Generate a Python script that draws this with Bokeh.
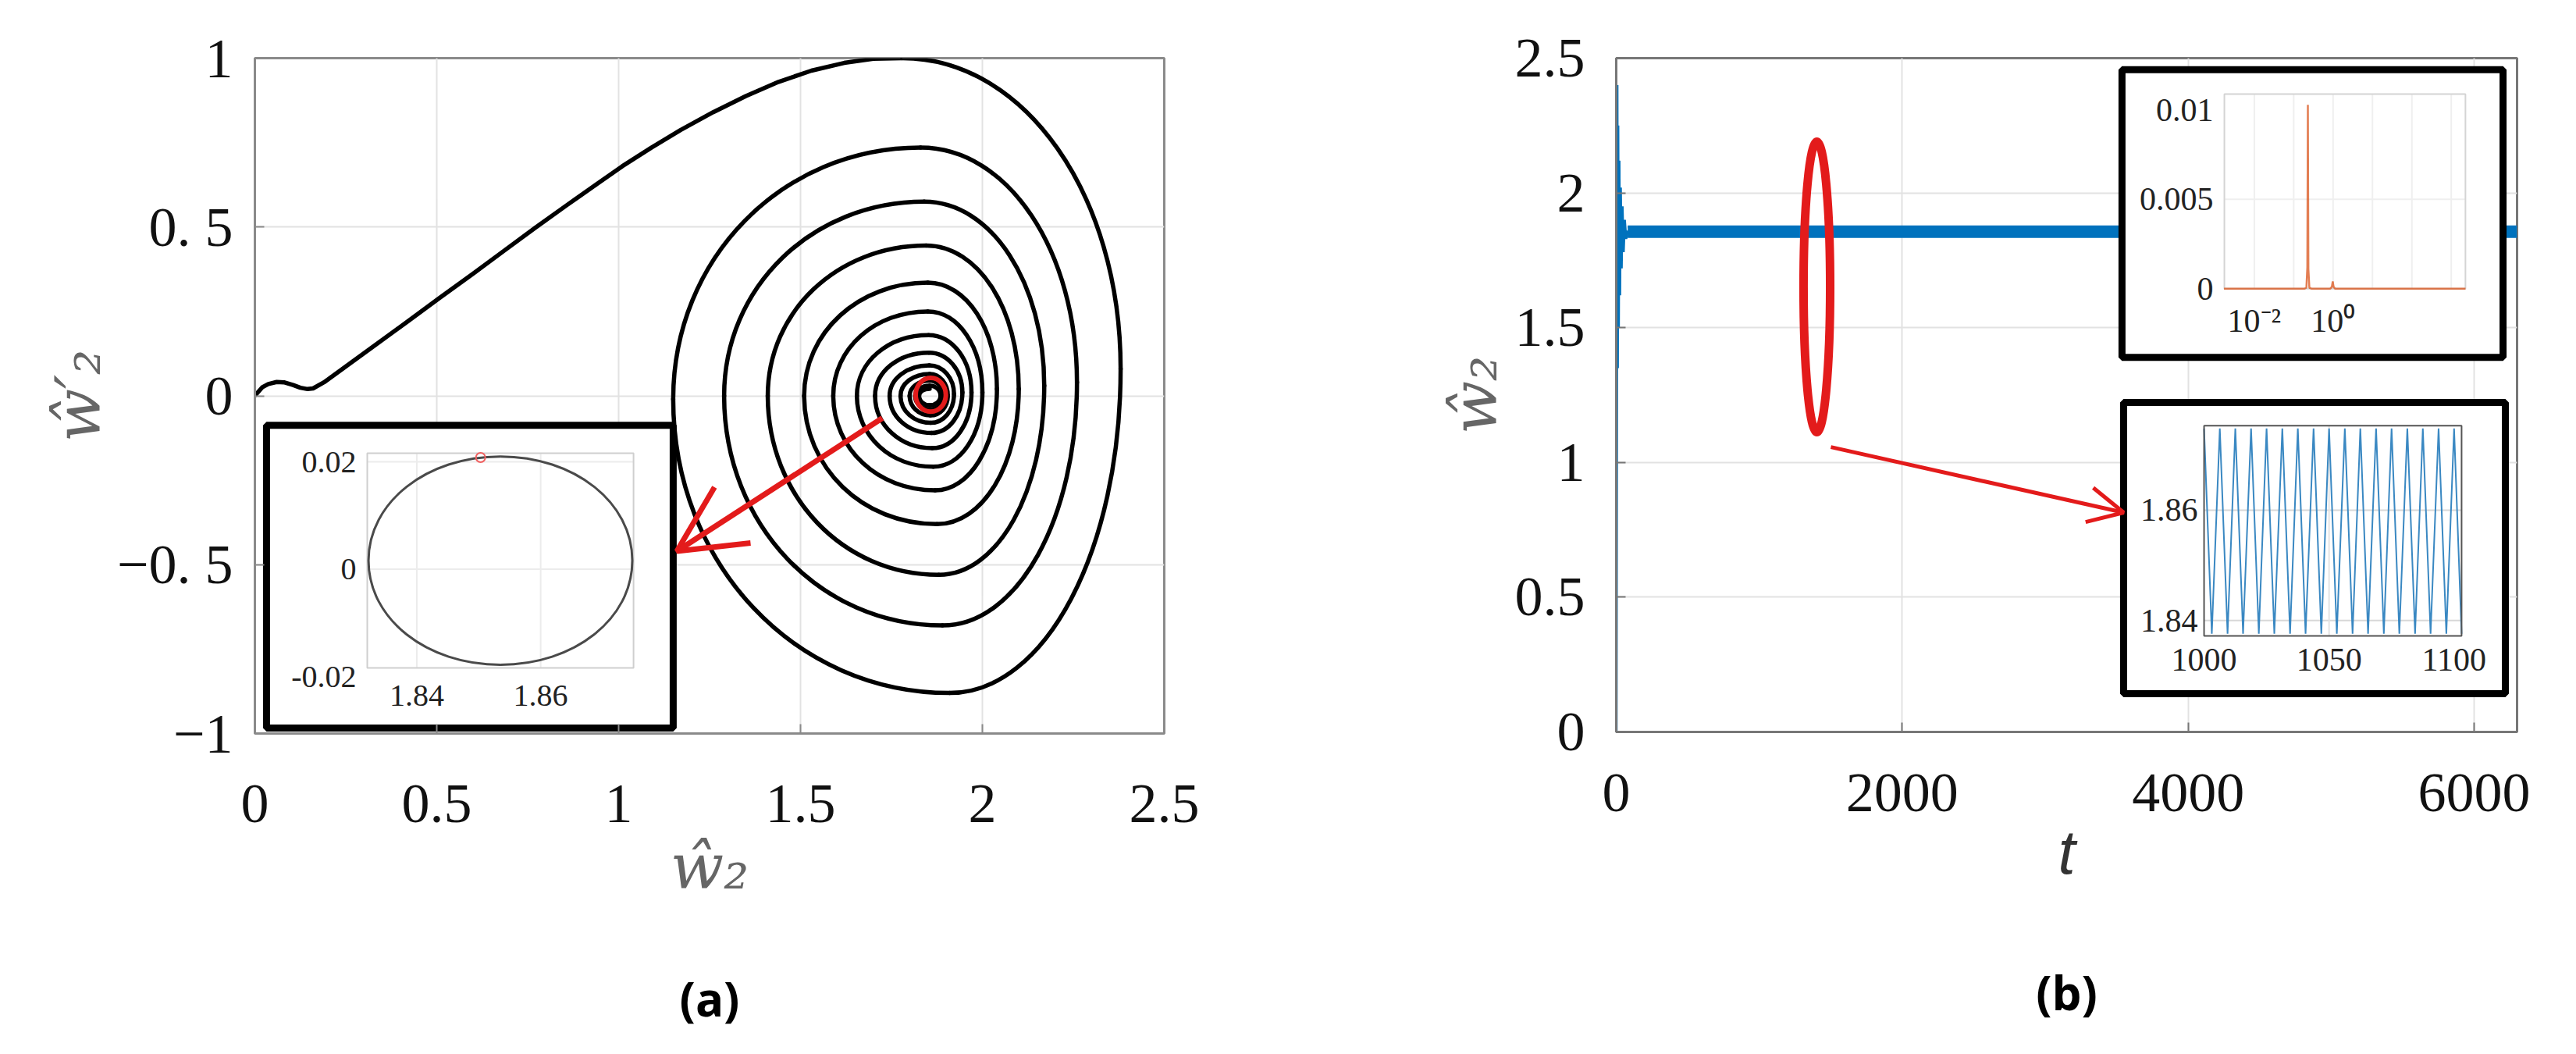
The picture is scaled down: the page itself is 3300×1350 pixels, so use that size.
import math
from bokeh.plotting import figure
from bokeh.layouts import row
from bokeh.models import (Range1d, FixedTicker, Arrow, OpenHead, Title, ColumnDataSource)
from bokeh.embed import file_html
from bokeh.resources import INLINE
from bokeh.core.properties import value

RED = "#e31b1b"
BLUE = "#0072BD"
ORANGE = "#D95319"
SERIF = "Liberation Serif"

# ======================= DATA : panel (a) =======================
a_x_ticks = [0, 0.5, 1, 1.5, 2, 2.5]
a_x_tick_labels = ["0", "0.5", "1", "1.5", "2", "2.5"]
a_y_ticks = [-1, -0.5, 0, 0.5, 1]
a_y_tick_labels = ["\u22121", "\u22120. 5", "0", "0. 5", "1"]

# trajectory from the origin up to the first top of the spiral
approach_w = [0.0, 0.02, 0.037, 0.06, 0.08, 0.105, 0.125, 0.145, 0.16, 0.19, 0.26, 0.333,
              0.42, 0.508, 0.6, 0.683, 0.77, 0.858, 0.94, 1.01, 1.09, 1.17, 1.26, 1.35,
              1.44, 1.53, 1.62, 1.70, 1.78]
approach_dw = [0.0, 0.025, 0.035, 0.041, 0.04, 0.032, 0.024, 0.02, 0.022, 0.04, 0.095, 0.152,
               0.22, 0.29, 0.362, 0.428, 0.497, 0.565, 0.627, 0.68, 0.735, 0.787, 0.84, 0.888,
               0.93, 0.963, 0.986, 0.998, 1.0]

# turning points of the spiral (top, right, bottom, left, top, ...)
spiral_w = [1.78, 2.38, 1.91, 1.15,
            1.83, 2.26, 1.89, 1.29,
            1.84, 2.17, 1.88, 1.41,
            1.845, 2.10, 1.875, 1.51,
            1.85, 2.04, 1.87, 1.59,
            1.85, 2.00, 1.865, 1.655,
            1.852, 1.97, 1.862, 1.705,
            1.853, 1.945, 1.86, 1.745,
            1.854, 1.922, 1.858, 1.775,
            1.855, 1.905, 1.857, 1.80,
            1.855, 1.893, 1.856, 1.815,
            1.855, 1.885, 1.855, 1.826,
            1.855]
spiral_dw = [1.00, 0.08, -0.88, -0.01,
             0.735, 0.04, -0.68, 0.0,
             0.575, 0.03, -0.53, 0.0,
             0.445, 0.02, -0.38, 0.0,
             0.335, 0.02, -0.28, 0.0,
             0.25, 0.01, -0.21, 0.0,
             0.18, 0.01, -0.155, 0.0,
             0.128, 0.01, -0.11, 0.0,
             0.09, 0.005, -0.08, 0.0,
             0.065, 0.0, -0.058, 0.0,
             0.045, 0.0, -0.04, 0.0,
             0.03, 0.0, -0.028, 0.0,
             0.021]

# inset (a): limit cycle (top, right, bottom, left, top)
cycle_w = [1.8535, 1.8748, 1.8535, 1.8322, 1.8535]
cycle_dw = [0.0210, 0.0016, -0.0178, 0.0016, 0.0210]
cycle_mark_w = [1.8503]
cycle_mark_dw = [0.0208]
ia_x_ticks = [1.84, 1.86]
ia_x_tick_labels = ["1.84", "1.86"]
ia_y_ticks = [0.02, 0.0, -0.02]
ia_y_tick_labels = ["0.02", "0", "-0.02"]

# ======================= DATA : panel (b) =======================
b_x_ticks = [0, 2000, 4000, 6000]
b_x_tick_labels = ["0", "2000", "4000", "6000"]
b_y_ticks = [0, 0.5, 1, 1.5, 2, 2.5]
b_y_tick_labels = ["0", "0.5", "1", "1.5", "2", "2.5"]

t_transient = [0, 3, 6, 9, 12, 16, 20, 25, 30, 36, 42, 50, 58, 68, 80]
w_transient = [0.0, 1.1, 2.40, 1.35, 2.25, 1.50, 2.12, 1.62, 2.02, 1.72, 1.95, 1.78, 1.90,
               1.83, 1.86]
t_band = [80, 6300]
w_band_low = [1.8372, 1.8372]
w_band_high = [1.8753, 1.8753]

# inset (b) top: spectrum (frequency on a log axis)
spec_f = [0.0017, 0.19, 0.21, 0.222, 0.229, 0.236, 0.25, 0.28, 0.85, 0.93, 0.98, 1.03,
          1.12, 2300]
spec_amp = [0.0, 0.0, 0.00005, 0.0012, 0.0103, 0.0011, 0.00005, 0.0, 0.0, 0.0001, 0.0004,
            0.0001, 0.0, 0.0]
spec_y_ticks = [0.01, 0.005, 0.0]
spec_y_tick_labels = ["0.01", "0.005", "0"]
spec_x_ticks = [0.01, 1.0]
spec_x_tick_labels = ["10\u207b\u00b2", "10\u2070"]
spec_grid_f = [0.01, 0.1, 1.0, 10.0, 100.0, 1000.0]
spec_f_range = [10 ** -2.76, 10 ** 3.36]
spec_amp_range = [0.0, 0.0109]

# inset (b) bottom: zoom on 1000..1100
zoom_t = [1000.0, 1003.1, 1006.3, 1009.4, 1012.5, 1015.6, 1018.8, 1021.9, 1025.0, 1028.1,
          1031.3, 1034.4, 1037.5, 1040.6, 1043.8, 1046.9, 1050.0, 1053.1, 1056.3, 1059.4,
          1062.5, 1065.6, 1068.8, 1071.9, 1075.0, 1078.1, 1081.3, 1084.4, 1087.5, 1090.6,
          1093.8, 1096.9, 1100.0, 1103.0]
zoom_w = [1.8748, 1.8376] * 17
zoom_x_ticks = [1000, 1050, 1100]
zoom_x_tick_labels = ["1000", "1050", "1100"]
zoom_y_ticks = [1.86, 1.84]
zoom_y_tick_labels = ["1.86", "1.84"]

# ======================= LAYOUT (positions / sizes) =======================
A_INSET_BOX = dict(left=0.032, right=1.150, top=-0.087, bottom=-0.984)
A_INSET_SRC = ((1.832, 1.875), (-0.0184, 0.0216))
A_INSET_TGT = ((0.309, 1.041), (-0.806, -0.170))
A_RED_RING = dict(x=1.858, y=0.003, w=0.083, h=0.10)
A_ARROW = dict(x0=1.725, y0=-0.066, x1=1.16, y1=-0.46)

B_TOP_BOX = dict(left=3537, right=6202, top=2.457, bottom=1.390)
B_TOP_TGT = ((4253, 5939), (1.645, 2.367))
B_BOT_BOX = dict(left=3548, right=6218, top=1.2225, bottom=0.142)
B_BOT_SRC = ((1000, 1103), (1.8372, 1.8753))
B_BOT_TGT = ((4111, 5912), (0.356, 1.136))
B_RED_RING = dict(x=1403, y=1.651, w=186, h=1.08)
B_ARROW = dict(x0=1501, y0=1.057, x1=3549, y1=0.814)


def lg(vals):
    return [math.log10(v) for v in vals]


def quarter_arcs(xs, ys, k=0.56, first_flat=True):
    cols = {n: [] for n in ("x0", "y0", "x1", "y1", "cx0", "cy0", "cx1", "cy1")}
    flat = first_flat
    for i in range(len(xs) - 1):
        ax, ay, bx, by = xs[i], ys[i], xs[i + 1], ys[i + 1]
        if flat:
            c0 = (ax + k * (bx - ax), ay)
            c1 = (bx, by + k * (ay - by))
        else:
            c0 = (ax, ay + k * (by - ay))
            c1 = (bx + k * (ax - bx), by)
        cols["x0"].append(ax); cols["y0"].append(ay)
        cols["x1"].append(bx); cols["y1"].append(by)
        cols["cx0"].append(c0[0]); cols["cy0"].append(c0[1])
        cols["cx1"].append(c1[0]); cols["cy1"].append(c1[1])
        flat = not flat
    return ColumnDataSource(cols)


def style_main(p, xt, xl, yt, yl, frame_color, xstand, ystand):
    p.xaxis.ticker = FixedTicker(ticks=xt)
    p.yaxis.ticker = FixedTicker(ticks=yt)
    p.xaxis.major_label_overrides = {t: l for t, l in zip(xt, xl)}
    p.yaxis.major_label_overrides = {t: l for t, l in zip(yt, yl)}
    for ax in (p.xaxis[0], p.yaxis[0]):
        ax.axis_line_color = frame_color
        ax.axis_line_width = 3
        ax.major_tick_line_color = frame_color
        ax.major_tick_line_width = 2
        ax.major_tick_in = 12
        ax.major_tick_out = 0
        ax.minor_tick_line_color = None
        ax.major_label_text_font = SERIF
        ax.major_label_text_font_size = "72px"
        ax.major_label_text_color = "#111111"
    p.xaxis.major_label_standoff = xstand
    p.yaxis.major_label_standoff = ystand
    p.grid.grid_line_color = "#e2e2e2"
    p.grid.grid_line_width = 2
    p.outline_line_color = frame_color
    p.outline_line_width = 3
    p.background_fill_color = "white"
    p.border_fill_color = "white"


def inset_ticks(sub, x0, y0, xt, xl, yt, yl, size, xoff, yoff):
    sub.text(x=[x0] * len(yt), y=yt, text=yl, text_align="right",
             text_baseline="middle", x_offset=xoff, text_font=value(SERIF),
             text_font_size=value(size), text_color="#222222")
    sub.text(x=xt, y=[y0] * len(xt), text=xl, text_align="center",
             text_baseline="top", y_offset=yoff, text_font=value(SERIF),
             text_font_size=value(size), text_color="#222222")


# ======================= PANEL (a) =======================
pa = figure(frame_width=1165, frame_height=865, x_range=Range1d(0, 2.5),
            y_range=Range1d(-1, 1), output_backend="svg", toolbar_location=None,
            min_border_left=326, min_border_right=201, min_border_top=74,
            min_border_bottom=395)
style_main(pa, a_x_ticks, a_x_tick_labels, a_y_ticks, a_y_tick_labels, "#8a8a8a", 66, 28)
pa.xaxis.axis_label = "\u0175\u2082"
pa.yaxis.axis_label = "\u0175\u2032\u2082"
for ax in (pa.xaxis[0], pa.yaxis[0]):
    ax.axis_label_text_font = "DejaVu Serif"
    ax.axis_label_text_font_style = "italic"
    ax.axis_label_text_font_size = "80px"
    ax.axis_label_text_color = "#666666"
pa.xaxis.axis_label_standoff = 8
pa.yaxis.axis_label_standoff = 0

pa.line(approach_w, approach_dw, line_color="black", line_width=5.5, line_join="round")
pa.bezier(source=quarter_arcs(spiral_w, spiral_dw), x0="x0", y0="y0", x1="x1", y1="y1",
          cx0="cx0", cy0="cy0", cx1="cx1", cy1="cy1", line_color="black", line_width=5.5,
          line_cap="round")
pa.ellipse(x=[A_RED_RING["x"]], y=[A_RED_RING["y"]], width=[A_RED_RING["w"]],
           height=[A_RED_RING["h"]], fill_color=None, line_color=RED, line_width=6)

pa.quad(left=[A_INSET_BOX["left"]], right=[A_INSET_BOX["right"]],
        top=[A_INSET_BOX["top"]], bottom=[A_INSET_BOX["bottom"]],
        fill_color="white", line_color="black", line_width=9)
sa = pa.subplot(x_source=Range1d(*A_INSET_SRC[0]), y_source=Range1d(*A_INSET_SRC[1]),
                x_target=Range1d(*A_INSET_TGT[0]), y_target=Range1d(*A_INSET_TGT[1]))
(ax0, ax1), (ay0, ay1) = A_INSET_SRC
sa.segment(x0=ia_x_ticks, x1=ia_x_ticks, y0=[ay0] * 2, y1=[ay1] * 2,
           line_color="#ececec", line_width=2)
sa.segment(x0=[ax0] * 2, x1=[ax1] * 2, y0=[0.0, 0.02], y1=[0.0, 0.02],
           line_color="#ececec", line_width=2)
sa.quad(left=[ax0], right=[ax1], bottom=[ay0], top=[ay1], fill_color=None,
        line_color="#cfcfcf", line_width=2)
sa.bezier(source=quarter_arcs(cycle_w, cycle_dw), x0="x0", y0="y0", x1="x1", y1="y1",
          cx0="cx0", cy0="cy0", cx1="cx1", cy1="cy1", line_color="#4a4a4a", line_width=3)
sa.scatter(cycle_mark_w, cycle_mark_dw, marker="circle", size=12, fill_color=None,
           line_color="#f06060", line_width=2)
inset_ticks(sa, ax0, ay0, ia_x_ticks, ia_x_tick_labels, ia_y_ticks,
            ia_y_tick_labels, "40px", -14, 22)

pa.add_layout(Arrow(end=OpenHead(size=85, line_color=RED, line_width=7),
                    x_start=A_ARROW["x0"], y_start=A_ARROW["y0"],
                    x_end=A_ARROW["x1"], y_end=A_ARROW["y1"],
                    line_color=RED, line_width=7))
pa.add_layout(Title(text="(a)", align="center", text_font="Open Sans",
                    text_font_style="bold", text_font_size="60px", text_color="black",
                    standoff=152), "below")

# ======================= PANEL (b) =======================
pb = figure(frame_width=1154, frame_height=863, x_range=Range1d(0, 6300),
            y_range=Range1d(0, 2.5), output_backend="svg", toolbar_location=None,
            min_border_left=378, min_border_right=60, min_border_top=54,
            min_border_bottom=417)
style_main(pb, b_x_ticks, b_x_tick_labels, b_y_ticks, b_y_tick_labels, "#777777", 54, 40)
pb.xaxis.axis_label = "t"
pb.xaxis.axis_label_text_font = "Liberation Sans"
pb.xaxis.axis_label_text_font_style = "italic"
pb.xaxis.axis_label_text_font_size = "80px"
pb.xaxis.axis_label_text_color = "#333333"
pb.xaxis.axis_label_standoff = 5
pb.yaxis.axis_label = "\u0175\u2082"
pb.yaxis.axis_label_text_font = "DejaVu Serif"
pb.yaxis.axis_label_text_font_style = "italic"
pb.yaxis.axis_label_text_font_size = "80px"
pb.yaxis.axis_label_text_color = "#666666"
pb.yaxis.axis_label_standoff = 2

pb.line(t_transient, w_transient, line_color=BLUE, line_width=3.5)
pb.varea(x=t_band, y1=w_band_low, y2=w_band_high, fill_color=BLUE)
pb.line(t_band, w_band_low, line_color=BLUE, line_width=3)
pb.line(t_band, w_band_high, line_color=BLUE, line_width=3)
pb.ellipse(x=[B_RED_RING["x"]], y=[B_RED_RING["y"]], width=[B_RED_RING["w"]],
           height=[B_RED_RING["h"]], fill_color=None, line_color=RED, line_width=11)

# top inset: spectrum (log-frequency axis)
pb.quad(left=[B_TOP_BOX["left"]], right=[B_TOP_BOX["right"]], top=[B_TOP_BOX["top"]],
        bottom=[B_TOP_BOX["bottom"]], fill_color="white", line_color="black", line_width=9)
fx0, fx1 = lg(spec_f_range)
fy0, fy1 = spec_amp_range
st = pb.subplot(x_source=Range1d(fx0, fx1), y_source=Range1d(fy0, fy1),
                x_target=Range1d(*B_TOP_TGT[0]), y_target=Range1d(*B_TOP_TGT[1]))
st.segment(x0=lg(spec_grid_f), x1=lg(spec_grid_f), y0=[fy0] * len(spec_grid_f),
           y1=[fy1] * len(spec_grid_f), line_color="#efefef", line_width=2)
st.segment(x0=[fx0], x1=[fx1], y0=[0.005], y1=[0.005], line_color="#efefef", line_width=2)
st.quad(left=[fx0], right=[fx1], bottom=[fy0], top=[fy1], fill_color=None,
        line_color="#d4d4d4", line_width=2)
st.line(lg(spec_f), spec_amp, line_color=ORANGE, line_alpha=0.75, line_width=2.5)
inset_ticks(st, fx0, fy0, lg(spec_x_ticks), spec_x_tick_labels, spec_y_ticks,
            spec_y_tick_labels, "42px", -14, 18)

# bottom inset: zoom
pb.quad(left=[B_BOT_BOX["left"]], right=[B_BOT_BOX["right"]], top=[B_BOT_BOX["top"]],
        bottom=[B_BOT_BOX["bottom"]], fill_color="white", line_color="black", line_width=9)
sz = pb.subplot(x_source=Range1d(*B_BOT_SRC[0]), y_source=Range1d(*B_BOT_SRC[1]),
                x_target=Range1d(*B_BOT_TGT[0]), y_target=Range1d(*B_BOT_TGT[1]))
(zx0, zx1), (zy0, zy1) = B_BOT_SRC
sz.segment(x0=[zx0] * 2, x1=[zx1] * 2, y0=zoom_y_ticks, y1=zoom_y_ticks,
           line_color="#d8d8d8", line_width=2)
sz.segment(x0=[1050], x1=[1050], y0=[zy0], y1=[zy1], line_color="#e4e4e4", line_width=2)
sz.line(zoom_t, zoom_w, line_color="#3a88c2", line_width=2)
sz.quad(left=[zx0], right=[zx1], bottom=[zy0], top=[zy1], fill_color=None,
        line_color="#555555", line_width=2)
inset_ticks(sz, zx0, zy0, zoom_x_ticks, zoom_x_tick_labels, zoom_y_ticks,
            zoom_y_tick_labels, "42px", -8, 16)

pb.add_layout(Arrow(end=OpenHead(size=45, line_color=RED, line_width=5),
                    x_start=B_ARROW["x0"], y_start=B_ARROW["y0"],
                    x_end=B_ARROW["x1"], y_end=B_ARROW["y1"],
                    line_color=RED, line_width=5))
pb.add_layout(Title(text="(b)", align="center", text_font="Open Sans",
                    text_font_style="bold", text_font_size="60px", text_color="black",
                    standoff=178), "below")

layout = row(pa, pb)
open("out.html", "w").write(file_html(layout, INLINE))
